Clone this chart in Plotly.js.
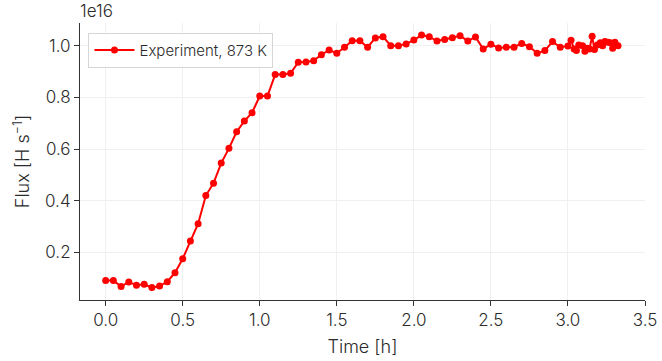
<!DOCTYPE html>
<html>
<head>
<meta charset="utf-8">
<script src="https://cdn.plot.ly/plotly-3.0.1.min.js"></script>
<style>
  html, body { margin: 0; padding: 0; background: #fff; }
  #chart { width: 662px; height: 361px; }
</style>
</head>
<body>
<div id="chart"></div>
<script>
// Measured hydrogen flux during the 873 K permeation run (flux in units of 1e16 H/s)
const timeHours = [
  0.00, 0.05, 0.10, 0.15, 0.20, 0.25, 0.30, 0.35, 0.40, 0.45,
  0.50, 0.55, 0.60, 0.65, 0.70, 0.75, 0.80, 0.85, 0.90, 0.95,
  1.00, 1.05, 1.10, 1.15, 1.20, 1.25, 1.30, 1.35, 1.40, 1.45,
  1.50, 1.55, 1.60, 1.65, 1.70, 1.75, 1.80, 1.85, 1.90, 1.95,
  2.00, 2.05, 2.10, 2.15, 2.20, 2.25, 2.30, 2.35, 2.40, 2.45,
  2.50, 2.55, 2.60, 2.65, 2.70, 2.75, 2.80, 2.85, 2.90, 2.95,
  3.000, 3.020, 3.040, 3.055, 3.070, 3.095, 3.110, 3.125, 3.140, 3.157,
  3.172, 3.190, 3.210, 3.225, 3.240, 3.260, 3.275, 3.290, 3.305, 3.325
];
const fluxE16 = [
  0.091, 0.091, 0.067, 0.085, 0.072, 0.076, 0.063, 0.069, 0.086, 0.121,
  0.175, 0.244, 0.311, 0.420, 0.468, 0.546, 0.603, 0.667, 0.709, 0.741,
  0.806, 0.806, 0.889, 0.889, 0.894, 0.937, 0.938, 0.943, 0.966, 0.984,
  0.972, 0.995, 1.020, 1.020, 0.995, 1.031, 1.036, 1.001, 1.001, 1.008,
  1.023, 1.042, 1.036, 1.019, 1.025, 1.032, 1.040, 1.019, 1.035, 0.988,
  1.007, 0.992, 0.995, 0.995, 1.010, 0.997, 0.972, 0.982, 1.017, 0.995,
  1.000, 1.022, 0.988, 0.982, 1.004, 1.001, 0.979, 0.991, 0.988, 1.038,
  0.986, 1.004, 1.012, 1.001, 1.017, 1.014, 1.012, 0.991, 1.014, 1.001
];
const seriesName = 'Experiment, 873 K';
const xTicks = [0.0, 0.5, 1.0, 1.5, 2.0, 2.5, 3.0, 3.5];
const xTickText = ['0.0', '0.5', '1.0', '1.5', '2.0', '2.5', '3.0', '3.5'];
const yTicks = [0.2, 0.4, 0.6, 0.8, 1.0];
const yTickText = ['0.2', '0.4', '0.6', '0.8', '1.0'];

const fontFamily = 'Inter, "Noto Sans", "DejaVu Sans", sans-serif';
const textColor = '#2b2b2b';
const axisColor = '#333333';
const gridColor = '#f0f0f0';
const lightWeight = 300;

const trace = {
  x: timeHours,
  y: fluxE16,
  name: seriesName,
  type: 'scatter',
  mode: 'lines+markers',
  line: { color: '#ff0000', width: 2 },
  marker: { color: '#ff0000', size: 7 },
  showlegend: true
};

const layout = {
  width: 662,
  height: 361,
  margin: { l: 80, r: 17, t: 23, b: 61 },
  paper_bgcolor: '#ffffff',
  plot_bgcolor: '#ffffff',
  font: { family: fontFamily, size: 16, color: textColor, weight: lightWeight },
  xaxis: {
    range: [-0.1665, 3.5],
    tickvals: xTicks,
    ticktext: xTickText,
    ticks: 'outside',
    ticklen: 5,
    tickwidth: 1,
    tickcolor: axisColor,
    showline: true,
    linecolor: axisColor,
    linewidth: 1,
    showgrid: true,
    gridcolor: gridColor,
    gridwidth: 1,
    zeroline: false,
    mirror: false,
    tickfont: { family: fontFamily, size: 17, color: textColor, weight: lightWeight },
    title: { text: 'Time [h]', font: { family: fontFamily, size: 18, color: textColor, weight: lightWeight }, standoff: 10 }
  },
  yaxis: {
    range: [0.015, 1.089],
    tickvals: yTicks,
    ticktext: yTickText,
    ticks: 'outside',
    ticklen: 5,
    tickwidth: 1,
    tickcolor: axisColor,
    showline: true,
    linecolor: axisColor,
    linewidth: 1,
    showgrid: true,
    gridcolor: gridColor,
    gridwidth: 1,
    zeroline: false,
    mirror: false,
    tickfont: { family: fontFamily, size: 17, color: textColor, weight: lightWeight },
    title: { text: 'Flux [H s<sup>\u22121</sup>]', font: { family: fontFamily, size: 18, color: textColor, weight: lightWeight }, standoff: 10 }
  },
  legend: {
    x: 0.015,
    y: 0.965,
    xanchor: 'left',
    yanchor: 'top',
    bgcolor: 'rgba(255,255,255,0.85)',
    bordercolor: '#d6d6d6',
    borderwidth: 1,
    font: { family: fontFamily, size: 15, color: textColor, weight: lightWeight },
    itemwidth: 40
  },
  annotations: [{
    text: '1e16',
    xref: 'paper',
    yref: 'paper',
    x: 0,
    y: 1,
    xanchor: 'left',
    yanchor: 'bottom',
    xshift: -2,
    yshift: 0,
    showarrow: false,
    font: { family: fontFamily, size: 17, color: textColor, weight: lightWeight }
  }]
};

Plotly.newPlot('chart', [trace], layout, { displayModeBar: false, staticPlot: true });
</script>
</body>
</html>
